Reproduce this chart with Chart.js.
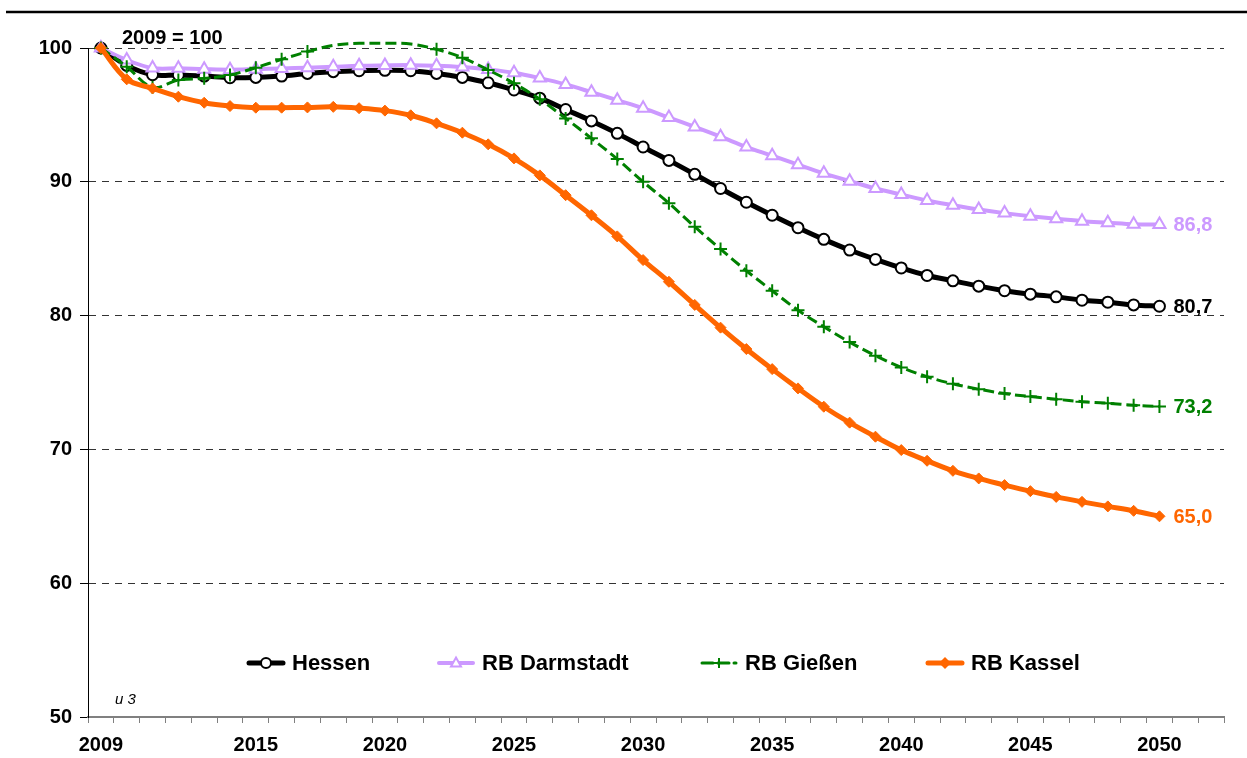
<!DOCTYPE html>
<html>
<head>
<meta charset="utf-8">
<script src="https://cdn.jsdelivr.net/npm/chart.js@4/dist/chart.umd.min.js"></script>
<style>
  html, body { margin: 0; padding: 0; background: #fff; }
  #wrap { width: 1247px; height: 758px; position: relative; }
</style>
</head>
<body>
<div id="wrap"><canvas id="chart"></canvas></div>
<script>
// years shown on the x axis (two empty slots follow 2050 in the original)
var years = [2009, 2010, 2011, 2012, 2013, 2014, 2015, 2016, 2017, 2018, 2019, 2020, 2021,
  2022, 2023, 2024, 2025, 2026, 2027, 2028, 2029, 2030, 2031, 2032, 2033, 2034, 2035,
  2036, 2037, 2038, 2039, 2040, 2041, 2042, 2043, 2044, 2045, 2046, 2047, 2048, 2049, 2050];
var shownYears = [2009, 2015, 2020, 2025, 2030, 2035, 2040, 2045, 2050];
var yTicks = [50, 60, 70, 80, 90, 100];

var hessen = [100, 98.7, 98.0, 97.98, 97.9, 97.78, 97.8, 97.9, 98.1, 98.23, 98.3, 98.33, 98.3,
  98.1, 97.8, 97.4, 96.86, 96.25, 95.4, 94.55, 93.62, 92.6, 91.6, 90.56, 89.5, 88.47, 87.5,
  86.57, 85.7, 84.9, 84.2, 83.56, 83.0, 82.6, 82.2, 81.86, 81.6, 81.4, 81.15, 81.0, 80.8, 80.7];
var darmstadt = [100, 99.1, 98.5, 98.48, 98.42, 98.38, 98.42, 98.47, 98.53, 98.6, 98.67, 98.7, 98.72,
  98.68, 98.58, 98.4, 98.15, 97.75, 97.28, 96.7, 96.1, 95.5, 94.8, 94.1, 93.37, 92.6, 91.95,
  91.28, 90.63, 90.05, 89.5, 89.05, 88.6, 88.25, 87.93, 87.66, 87.43, 87.23, 87.06, 86.94, 86.82, 86.8];
var giessen = [100, 98.6, 97.06, 97.6, 97.73, 97.98, 98.53, 99.15, 99.73, 100.2, 100.35, 100.35, 100.3,
  99.9, 99.28, 98.36, 97.36, 96.17, 94.74, 93.25, 91.7, 90.0, 88.4, 86.64, 84.97, 83.35, 81.86,
  80.4, 79.17, 78.02, 77.0, 76.13, 75.43, 74.9, 74.5, 74.17, 73.95, 73.75, 73.57, 73.45, 73.3, 73.2];
var kassel = [100, 97.66, 96.98, 96.36, 95.91, 95.66, 95.54, 95.54, 95.56, 95.6, 95.5, 95.32, 94.97,
  94.37, 93.67, 92.8, 91.75, 90.48, 89.0, 87.5, 85.92, 84.15, 82.53, 80.8, 79.1, 77.5, 76.0,
  74.56, 73.19, 72.0, 70.95, 69.95, 69.15, 68.4, 67.83, 67.33, 66.88, 66.45, 66.08, 65.74, 65.41, 65.0];

var seriesNames = ['Hessen', 'RB Darmstadt', 'RB Gießen', 'RB Kassel'];
var FONT = '"Liberation Sans", Arial, sans-serif';

var labels = years.map(String).concat(['', '']);

function drawMarker(ctx, style, x, y, r, color) {
  ctx.save();
  ctx.lineWidth = 2;
  ctx.strokeStyle = color;
  ctx.setLineDash([]);
  ctx.beginPath();
  if (style === 'circle') {
    ctx.fillStyle = '#fff';
    ctx.arc(x, y, r, 0, Math.PI * 2);
    ctx.fill(); ctx.stroke();
  } else if (style === 'triangle') {
    ctx.fillStyle = '#fff';
    ctx.moveTo(x, y - r * 1.1);
    ctx.lineTo(x + r, y + r * 0.7);
    ctx.lineTo(x - r, y + r * 0.7);
    ctx.closePath();
    ctx.fill(); ctx.stroke();
  } else if (style === 'cross') {
    ctx.moveTo(x - r, y); ctx.lineTo(x + r, y);
    ctx.moveTo(x, y - r); ctx.lineTo(x, y + r);
    ctx.stroke();
  } else {
    ctx.fillStyle = color;
    ctx.moveTo(x, y - r); ctx.lineTo(x + r, y); ctx.lineTo(x, y + r); ctx.lineTo(x - r, y);
    ctx.closePath();
    ctx.fill();
  }
  ctx.restore();
}

var extras = {
  id: 'extras',
  afterDraw: function(chart) {
    var ctx = chart.ctx;
    ctx.save();
    // rule above chart
    ctx.strokeStyle = '#000';
    ctx.lineWidth = 2.5;
    ctx.beginPath();
    ctx.moveTo(6, 12); ctx.lineTo(1247, 12);
    ctx.stroke();

    ctx.fillStyle = '#000';
    ctx.font = 'bold 20px ' + FONT;
    ctx.textBaseline = 'alphabetic';
    ctx.textAlign = 'left';
    ctx.fillText('2009 = 100', 122, 44);

    ctx.font = 'italic 15px ' + FONT;
    ctx.fillText('u 3', 115, 704);

    // end labels
    ctx.font = 'bold 20px ' + FONT;
    ctx.textBaseline = 'middle';
    chart.data.datasets.forEach(function(ds, i) {
      var meta = chart.getDatasetMeta(i);
      var last = meta.data[ds.data.length - 1];
      var v = ds.data[ds.data.length - 1];
      ctx.fillStyle = ds.borderColor;
      ctx.fillText(v.toFixed(1).replace('.', ','), last.x + 14, last.y + 1);
    });

    // legend
    var legX = [247, 437, 700, 926];
    var ly = 663;
    chart.data.datasets.forEach(function(ds, i) {
      var x0 = legX[i], x1 = x0 + 38;
      ctx.save();
      ctx.strokeStyle = ds.borderColor;
      ctx.lineWidth = ds.borderWidth;
      ctx.lineCap = 'round';
      ctx.setLineDash(ds.borderDash || []);
      ctx.beginPath();
      ctx.moveTo(x0 + 2, ly); ctx.lineTo(x1 - 2, ly);
      ctx.stroke();
      ctx.restore();
      drawMarker(ctx, ds.pointStyle, (x0 + x1) / 2, ly, ds.legendR, ds.borderColor);
      ctx.fillStyle = '#000';
      ctx.font = 'bold 22px ' + FONT;
      ctx.textBaseline = 'middle';
      ctx.fillText(seriesNames[i], x1 + 7, ly + 1);
    });
    ctx.restore();
  }
};

var chart = new Chart('chart', {
  type: 'line',
  data: {
    labels: labels,
    datasets: [
      { label: seriesNames[0], data: hessen, borderColor: '#000000', borderWidth: 5,
        pointStyle: 'circle', pointRadius: 5.5, pointBorderWidth: 2, pointBackgroundColor: '#fff',
        pointBorderColor: '#000', legendR: 5, order: 4 },
      { label: seriesNames[1], data: darmstadt, borderColor: '#CC99FF', borderWidth: 4,
        pointStyle: 'triangle', pointRadius: 7, pointBorderWidth: 2, pointBackgroundColor: '#fff',
        pointBorderColor: '#CC99FF', legendR: 5, order: 3 },
      { label: seriesNames[2], data: giessen, borderColor: '#008000', borderWidth: 3,
        borderDash: [11, 5],
        pointStyle: 'cross', pointBorderWidth: 2, pointBorderColor: '#008000',
        pointRadius: function(c) { return giessen[c.dataIndex] > 100 ? 0 : 6.5; },
        legendR: 5, order: 2 },
      { label: seriesNames[3], data: kassel, borderColor: '#FF6600', borderWidth: 5,
        pointStyle: 'rectRot', pointRadius: 5.5, pointBorderWidth: 1, pointBackgroundColor: '#FF6600',
        pointBorderColor: '#FF6600', legendR: 6, order: 1 }
    ]
  },
  options: {
    responsive: true,
    maintainAspectRatio: false,
    animation: false,
    devicePixelRatio: 1,
    layout: { padding: { top: 48, right: 23, left: 0, bottom: 0 } },
    elements: { line: { tension: 0.35 } },
    datasets: { line: { clip: false } },
    plugins: { legend: { display: false }, tooltip: { enabled: false } },
    scales: {
      x: {
        type: 'category',
        offset: true,
        afterFit: function(s) { s.height = 41; },
        grid: { offset: true, drawOnChartArea: false, drawTicks: true, tickLength: 6,
          color: '#808080', lineWidth: 1 },
        border: { color: '#808080', width: 2 },
        ticks: {
          autoSkip: false, maxRotation: 0, padding: 10, color: '#000',
          font: { family: FONT, size: 20, weight: 'bold' },
          callback: function(val, idx) {
            var l = labels[idx];
            return shownYears.indexOf(Number(l)) >= 0 && l !== '' ? l : '';
          }
        }
      },
      y: {
        min: 50, max: 100,
        afterFit: function(s) { s.width = 88; },
        afterBuildTicks: function(s) { s.ticks = yTicks.map(function(v) { return { value: v }; }); },
        grid: {
          color: function(c) { return c.tick && c.tick.value === 50 ? 'rgba(0,0,0,0)' : '#333'; },
          tickColor: '#000', tickLength: 8, lineWidth: 1
        },
        border: { color: '#000', width: 1, dash: [7, 6] },
        ticks: { padding: 8, color: '#000', font: { family: FONT, size: 20, weight: 'bold' } }
      }
    }
  },
  plugins: [extras]
});
</script>
</body>
</html>
